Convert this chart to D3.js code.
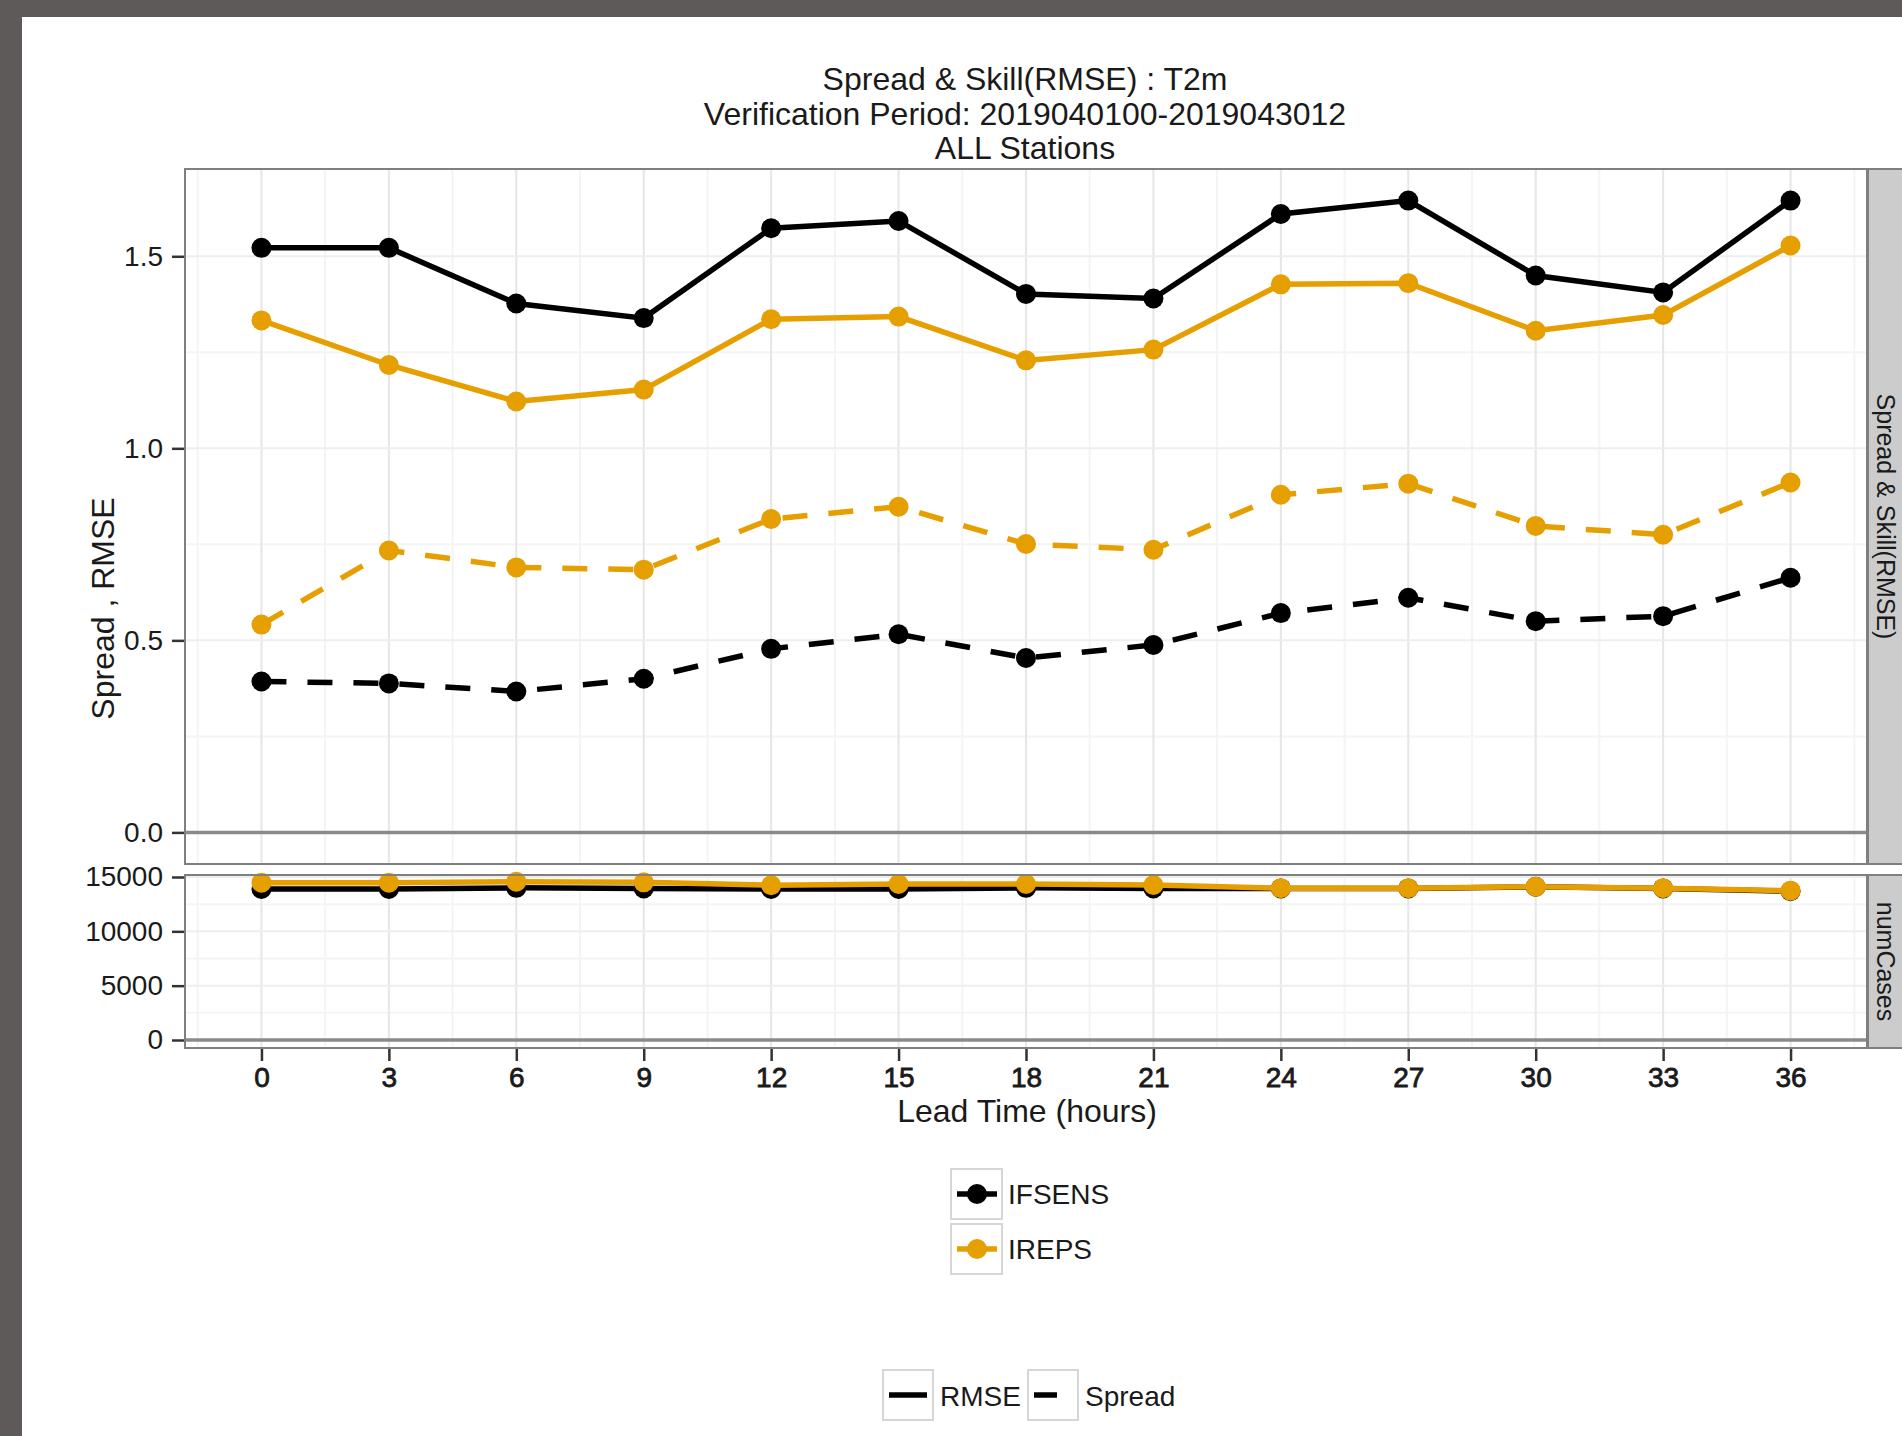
<!DOCTYPE html>
<html>
<head>
<meta charset="utf-8">
<script src="https://cdn.jsdelivr.net/npm/d3@7"></script>
<style>
  body { margin: 0; background: #fff; }
  text { font-family: "Liberation Sans", Arial, Helvetica, sans-serif; fill: #1a1a1a; }
</style>
</head>
<body>
<div id="chart"></div>
<script>
// Data
const leadTimes = [0, 3, 6, 9, 12, 15, 18, 21, 24, 27, 30, 33, 36];
const seriesNames = ["IFSENS", "IREPS"];
const seriesColors = ["#000000", "#E69F00"];
const rmseIFSENS = [1.522, 1.522, 1.377, 1.339, 1.573, 1.592, 1.402, 1.390, 1.610, 1.645, 1.450, 1.406, 1.645];
const rmseIREPS = [1.333, 1.217, 1.122, 1.153, 1.336, 1.343, 1.229, 1.257, 1.427, 1.430, 1.306, 1.347, 1.528];
const spreadIFSENS = [0.393, 0.388, 0.367, 0.400, 0.478, 0.516, 0.454, 0.488, 0.571, 0.611, 0.550, 0.563, 0.663];
const spreadIREPS = [0.541, 0.734, 0.690, 0.684, 0.816, 0.848, 0.751, 0.736, 0.879, 0.908, 0.798, 0.775, 0.911];
const casesIFSENS = [13900, 13900, 14000, 13950, 13900, 13900, 14000, 13950, 13950, 13950, 14100, 13950, 13700];
const casesIREPS = [14480, 14480, 14570, 14510, 14240, 14360, 14360, 14260, 13960, 13960, 14110, 13960, 13740];
const yTicksTop = [0, 0.5, 1.0, 1.5];
const yMinorTop = [0.25, 0.75, 1.25];
const yTicksBottom = [0, 5000, 10000, 15000];
const yMinorBottom = [2500, 7500, 12500];
const titleLines = ["Spread & Skill(RMSE) : T2m", "Verification Period: 2019040100-2019043012", "ALL Stations"];
const lineTypes = ["RMSE", "Spread"];

// Layout
const width = 1902, height = 1436;
const panelLeft = 185, panelRight = 1867;
const topPanel = {top: 169, bottom: 864};
const botPanel = {top: 875, bottom: 1048};
const dash = "25,21";

const svg = d3.select("#chart")
    .append("svg")
    .attr("width", width)
    .attr("height", height);

// Screenshot frame
svg.append("rect").attr("width", width).attr("height", height).attr("fill", "#fff");
svg.append("rect").attr("width", width).attr("height", 17).attr("fill", "#5e5a59");
svg.append("rect").attr("width", 22).attr("height", height).attr("fill", "#5e5a59");

// Scales (ggplot style 5% expansion)
const x = d3.scaleLinear().domain([-1.8, 37.8]).range([panelLeft, panelRight]);
const yTop = d3.scaleLinear().domain([-0.08225, 1.72725]).range([topPanel.bottom, topPanel.top]);
const yBot = d3.scaleLinear().domain([-736, 15184]).range([botPanel.bottom, botPanel.top]);
const xMinor = d3.range(-1.5, 38, 3);

function drawPanel(panel, y, majors, minors) {
    const g = svg.append("g");
    g.append("rect")
        .attr("x", panelLeft).attr("y", panel.top)
        .attr("width", panelRight - panelLeft).attr("height", panel.bottom - panel.top)
        .attr("fill", "#fff");
    // minor grid
    g.selectAll(".vminor").data(xMinor).enter().append("line")
        .attr("x1", d => x(d)).attr("x2", d => x(d))
        .attr("y1", panel.top).attr("y2", panel.bottom)
        .attr("stroke", "#f4f4f4").attr("stroke-width", 2);
    g.selectAll(".hminor").data(minors).enter().append("line")
        .attr("x1", panelLeft).attr("x2", panelRight)
        .attr("y1", d => y(d)).attr("y2", d => y(d))
        .attr("stroke", "#f4f4f4").attr("stroke-width", 2);
    // major grid
    g.selectAll(".vmajor").data(leadTimes).enter().append("line")
        .attr("x1", d => x(d)).attr("x2", d => x(d))
        .attr("y1", panel.top).attr("y2", panel.bottom)
        .attr("stroke", "#e6e6e6").attr("stroke-width", 2);
    g.selectAll(".hmajor").data(majors).enter().append("line")
        .attr("x1", panelLeft).attr("x2", panelRight)
        .attr("y1", d => y(d)).attr("y2", d => y(d))
        .attr("stroke", "#eeeeee").attr("stroke-width", 2);
    // zero line
    g.append("line")
        .attr("x1", panelLeft).attr("x2", panelRight)
        .attr("y1", y(0)).attr("y2", y(0))
        .attr("stroke", "#8a8a8a").attr("stroke-width", 3.5);
    return g;
}

function drawSeries(g, y, values, color, dashed) {
    const pts = leadTimes.map((t, i) => [t, values[i]]);
    g.append("path")
        .datum(pts)
        .attr("fill", "none")
        .attr("stroke", color)
        .attr("stroke-width", 5.5)
        .attr("stroke-dasharray", dashed ? dash : null)
        .attr("d", d3.line().x(d => x(d[0])).y(d => y(d[1])));
    g.selectAll(null).data(pts).enter().append("circle")
        .attr("cx", d => x(d[0])).attr("cy", d => y(d[1]))
        .attr("r", 10).attr("fill", color);
}

function drawBorder(panel) {
    svg.append("rect")
        .attr("x", panelLeft).attr("y", panel.top)
        .attr("width", panelRight - panelLeft).attr("height", panel.bottom - panel.top)
        .attr("fill", "none").attr("stroke", "#7f7f7f").attr("stroke-width", 2);
}

function drawStrip(panel, label) {
    svg.append("rect")
        .attr("x", panelRight + 1).attr("y", panel.top)
        .attr("width", 45).attr("height", panel.bottom - panel.top)
        .attr("fill", "#cccccc").attr("stroke", "#7f7f7f").attr("stroke-width", 2);
    const cy = (panel.top + panel.bottom) / 2;
    svg.append("text")
        .attr("transform", `translate(1886, ${cy}) rotate(90)`)
        .attr("text-anchor", "middle")
        .attr("dominant-baseline", "central")
        .style("font-size", "25px")
        .text(label);
}

function styleAxis(g, size) {
    g.select(".domain").remove();
    g.selectAll(".tick line").attr("stroke", "#333").attr("stroke-width", 2.5);
    g.selectAll(".tick text")
        .attr("fill", "#1a1a1a")
        .style("font-family", '"Liberation Sans", Arial, sans-serif')
        .style("font-size", size);
}

// Top panel: spread & RMSE
const gTop = drawPanel(topPanel, yTop, yTicksTop, yMinorTop);
drawSeries(gTop, yTop, rmseIFSENS, seriesColors[0], false);
drawSeries(gTop, yTop, spreadIFSENS, seriesColors[0], true);
drawSeries(gTop, yTop, rmseIREPS, seriesColors[1], false);
drawSeries(gTop, yTop, spreadIREPS, seriesColors[1], true);
drawBorder(topPanel);
drawStrip(topPanel, "Spread & Skill(RMSE)");

// Bottom panel: numCases
const gBot = drawPanel(botPanel, yBot, yTicksBottom, yMinorBottom);
drawSeries(gBot, yBot, casesIFSENS, seriesColors[0], false);
drawSeries(gBot, yBot, casesIREPS, seriesColors[1], false);
drawBorder(botPanel);
drawStrip(botPanel, "numCases");

// Axes
const axTop = svg.append("g")
    .attr("transform", `translate(${panelLeft - 1}, 0)`)
    .call(d3.axisLeft(yTop).tickValues(yTicksTop).tickFormat(d3.format(".1f")).tickSize(12).tickPadding(9));
styleAxis(axTop, "28px");

const axBot = svg.append("g")
    .attr("transform", `translate(${panelLeft - 1}, 0)`)
    .call(d3.axisLeft(yBot).tickValues(yTicksBottom).tickFormat(d3.format("d")).tickSize(12).tickPadding(9));
styleAxis(axBot, "28px");

const axX = svg.append("g")
    .attr("transform", `translate(0, ${botPanel.bottom + 1})`)
    .call(d3.axisBottom(x).tickValues(leadTimes).tickSize(12).tickPadding(6));
styleAxis(axX, "28px");
// slightly heavier digits, as in the reference
axX.selectAll(".tick text").attr("stroke", "#1a1a1a").attr("stroke-width", 0.8);

// Titles
svg.append("g").selectAll("text")
    .data(titleLines).enter().append("text")
    .attr("x", 1025)
    .attr("y", (d, i) => 90 + i * 34.5)
    .attr("text-anchor", "middle")
    .style("font-size", "32px")
    .text(d => d);

svg.append("text")
    .attr("x", 1027).attr("y", 1122)
    .attr("text-anchor", "middle")
    .style("font-size", "32px")
    .text("Lead Time (hours)");

svg.append("text")
    .attr("transform", `translate(114, ${(topPanel.top + botPanel.bottom) / 2}) rotate(-90)`)
    .attr("text-anchor", "middle")
    .style("font-size", "32px")
    .text("Spread , RMSE");

// Colour legend
const colLegend = svg.append("g");
seriesNames.forEach((name, i) => {
    const ky = 1169 + i * 55;
    colLegend.append("rect")
        .attr("x", 951).attr("y", ky).attr("width", 51).attr("height", 50)
        .attr("fill", "#fff").attr("stroke", "#d6d6d6").attr("stroke-width", 2);
    colLegend.append("line")
        .attr("x1", 957).attr("x2", 997).attr("y1", ky + 25).attr("y2", ky + 25)
        .attr("stroke", seriesColors[i]).attr("stroke-width", 5.5);
    colLegend.append("circle")
        .attr("cx", 977).attr("cy", ky + 25).attr("r", 10).attr("fill", seriesColors[i]);
    colLegend.append("text")
        .attr("x", 1008).attr("y", ky + 25)
        .attr("dominant-baseline", "central")
        .style("font-size", "28px")
        .text(name);
});

// Linetype legend
const ltLegend = svg.append("g");
const ltBoxX = [883, 1028];
lineTypes.forEach((name, i) => {
    const kx = ltBoxX[i];
    ltLegend.append("rect")
        .attr("x", kx).attr("y", 1370).attr("width", 50).attr("height", 50)
        .attr("fill", "#fff").attr("stroke", "#d6d6d6").attr("stroke-width", 2);
    ltLegend.append("line")
        .attr("x1", kx + 6).attr("x2", kx + 44).attr("y1", 1395).attr("y2", 1395)
        .attr("stroke", "#000").attr("stroke-width", 5.5)
        .attr("stroke-dasharray", i === 1 ? "23,30" : null);
    ltLegend.append("text")
        .attr("x", kx + 57).attr("y", 1396)
        .attr("dominant-baseline", "central")
        .style("font-size", "28px")
        .text(name);
});
</script>
</body>
</html>
